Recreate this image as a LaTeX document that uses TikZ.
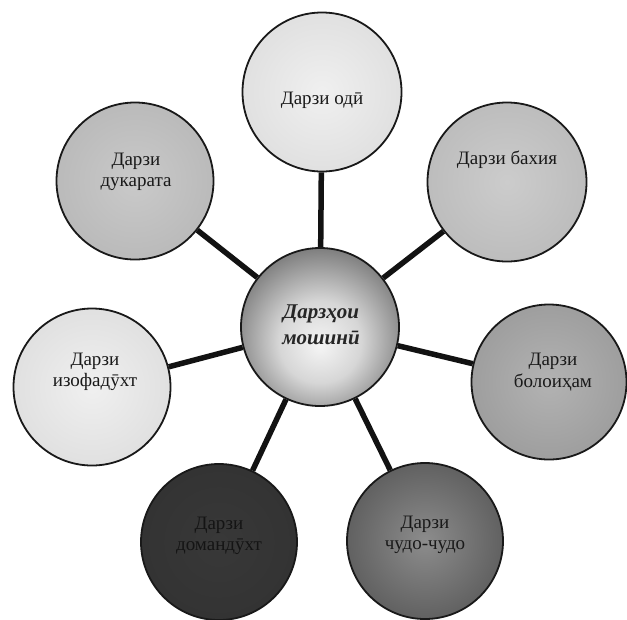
\documentclass[tikz,border=0pt]{standalone}
\usepackage{fontspec}
\setmainfont{Liberation Serif}
\usetikzlibrary{backgrounds}
\pgfdeclareradialshading{shOdi}{\pgfpoint{0bp}{0bp}}{color(0bp)=(black!6); color(25bp)=(black!12); color(50bp)=(black!24)}
\pgfdeclareradialshading{shDuk}{\pgfpoint{0bp}{0bp}}{color(0bp)=(black!21); color(25bp)=(black!27); color(50bp)=(black!40)}
\pgfdeclareradialshading{shBakh}{\pgfpoint{0bp}{0bp}}{color(0bp)=(black!20); color(25bp)=(black!26); color(50bp)=(black!42)}
\pgfdeclareradialshading{shIzo}{\pgfpoint{0bp}{0bp}}{color(0bp)=(black!6); color(25bp)=(black!12); color(50bp)=(black!26)}
\pgfdeclareradialshading{shBolo}{\pgfpoint{0bp}{0bp}}{color(0bp)=(black!30); color(25bp)=(black!38); color(50bp)=(black!57)}
\pgfdeclareradialshading{shDoman}{\pgfpoint{0bp}{0bp}}{color(0bp)=(black!78); color(25bp)=(black!80); color(50bp)=(black!84)}
\pgfdeclareradialshading{shChudo}{\pgfpoint{0bp}{0bp}}{color(0bp)=(black!45); color(25bp)=(black!62); color(50bp)=(black!83)}
\pgfdeclareradialshading{shCenter}{\pgfpoint{0bp}{-6bp}}{color(0bp)=(black!4); color(13bp)=(black!16); color(28bp)=(black!50); color(42bp)=(black!80); color(54bp)=(black!93); color(62bp)=(black!96)}
\begin{document}
\begin{tikzpicture}[x=1pt,y=-1pt,
  bubble/.style={circle, draw=black!90, line width=1.8pt, inner sep=0pt},
  lbl/.style={align=center, font=\fontsize{19}{21.5}\selectfont, text=black!90},
  clbl/.style={align=center, font=\fontsize{21}{26}\selectfont\bfseries\itshape, text=black!85},
  link/.style={line width=5.5pt, draw=black!93}]
\useasboundingbox (0,0) rectangle (627,619);
\node[bubble, minimum size=159pt, shading=shOdi] (odi) at (322,92) {};
\node[bubble, minimum size=158pt, shading=shCenter] (cen) at (320,327) {};
\node[bubble, minimum size=157pt, shading=shDuk] (duk) at (135,181) {};
\node[bubble, minimum size=159pt, shading=shBakh] (bakh) at (507,182) {};
\node[bubble, minimum size=157pt, shading=shIzo] (izo) at (92,387) {};
\node[bubble, minimum size=155pt, shading=shBolo] (bolo) at (549,382) {};
\node[bubble, minimum size=156pt, shading=shDoman] (doman) at (219,542) {};
\node[bubble, minimum size=156pt, shading=shChudo] (chudo) at (425,541) {};
\begin{scope}[on background layer]
\draw[link] (cen) -- (odi);
\draw[link] (cen) -- (duk);
\draw[link] (cen) -- (bakh);
\draw[link] (cen) -- (izo);
\draw[link] (cen) -- (bolo);
\draw[link] (cen) -- (doman);
\draw[link] (cen) -- (chudo);
\end{scope}
\node[lbl] (odi-t) at (322,100) {Дарзи одӣ};
\node[clbl] (cen-t) at (321,325) {Дарзҳои\\мошинӣ};
\node[lbl] (duk-t) at (136,172) {Дарзи\\дукарата};
\node[lbl] (bakh-t) at (507,160) {Дарзи бахия};
\node[lbl] (izo-t) at (95,372) {Дарзи\\изофадӯхт};
\node[lbl] (bolo-t) at (553,372) {Дарзи\\болоиҳам};
\node[lbl, text=black!92] (doman-t) at (219,536) {Дарзи\\домандӯхт};
\node[lbl] (chudo-t) at (425,535) {Дарзи\\чудо-чудо};
\end{tikzpicture}
\end{document}
